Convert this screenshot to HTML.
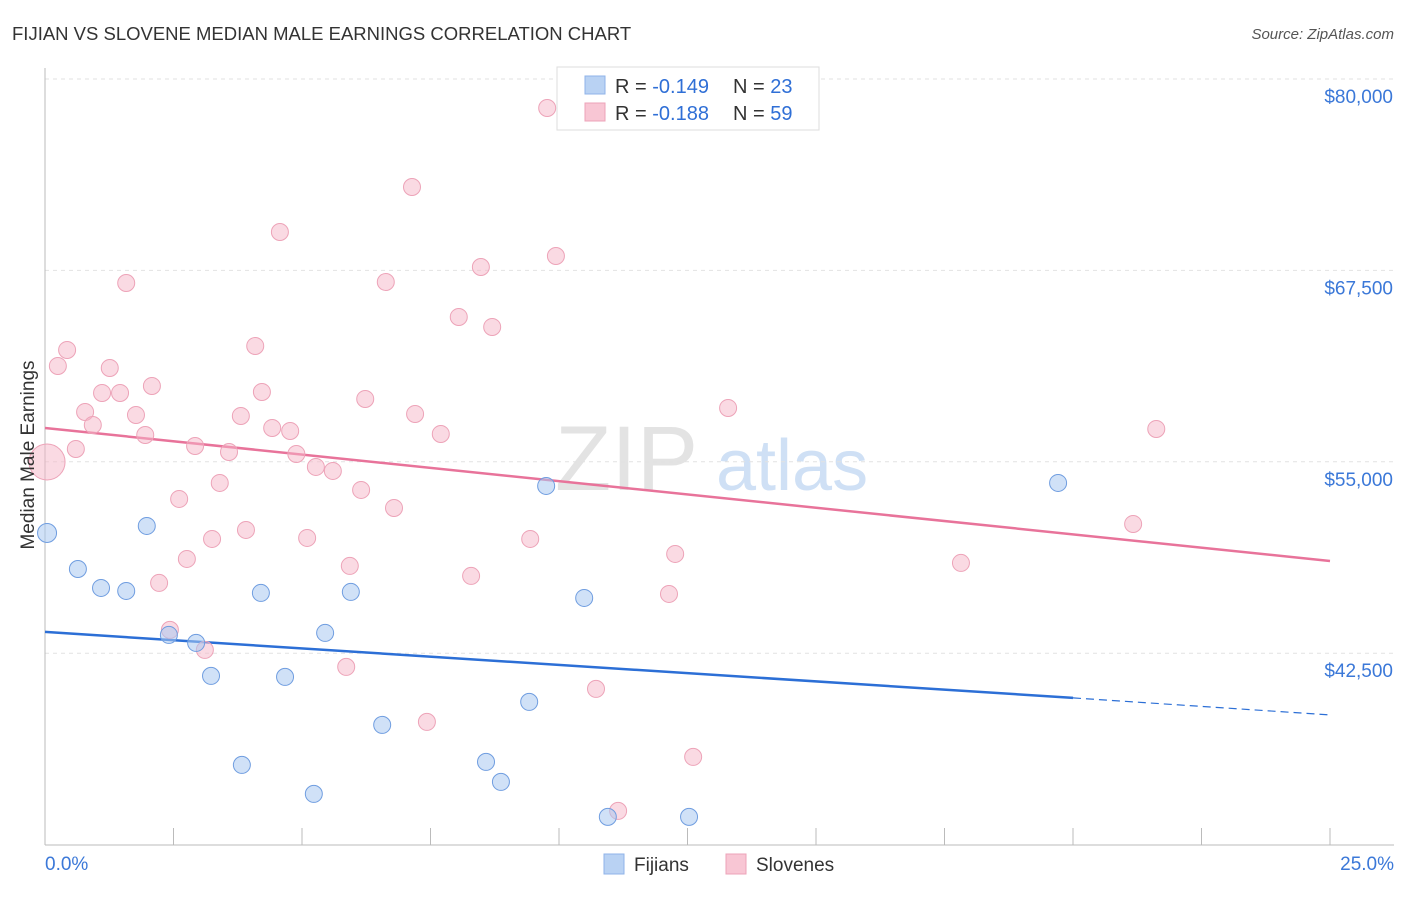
<!DOCTYPE html>
<html><head><meta charset="utf-8"><style>
body{margin:0;background:#fff;font-family:"Liberation Sans",sans-serif}
svg text{font-family:"Liberation Sans",sans-serif}
</style></head><body>
<svg id="c" width="1406" height="892">
<text x="12" y="40" font-size="18.5" fill="#333">FIJIAN VS SLOVENE MEDIAN MALE EARNINGS CORRELATION CHART</text>
<text x="1394" y="39" font-size="15" fill="#555" text-anchor="end" font-style="italic">Source: ZipAtlas.com</text>
<g><text x="555" y="490" font-size="92" fill="#e3e3e3" font-family="Liberation Serif">ZIP</text><text x="716" y="490" font-size="72" fill="#cfe0f5">atlas</text></g>
<g id="grid"></g><g id="axes"></g><g id="lines"></g><g id="pts"></g>
<text transform="translate(34,455) rotate(-90)" font-size="19" fill="#333" text-anchor="middle">Median Male Earnings</text>
<g>
<rect x="557" y="67" width="262" height="63" fill="#fff" stroke="#ddd"/>
<rect x="585" y="76" width="20" height="18" fill="#b9d2f3" stroke="#8fb3e8"/>
<rect x="585" y="103" width="20" height="18" fill="#f8c6d4" stroke="#eda3b8"/>
<text x="615" y="93" font-size="20" fill="#333">R = <tspan fill="#2f6fd6">-0.149</tspan></text>
<text x="733" y="93" font-size="20" fill="#333">N = <tspan fill="#2f6fd6">23</tspan></text>
<text x="615" y="120" font-size="20" fill="#333">R = <tspan fill="#2f6fd6">-0.188</tspan></text>
<text x="733" y="120" font-size="20" fill="#333">N = <tspan fill="#2f6fd6">59</tspan></text>
</g>
<g>
<rect x="604" y="854" width="20" height="20" fill="#b9d2f3" stroke="#8fb3e8"/>
<text x="634" y="871" font-size="19" fill="#333">Fijians</text>
<rect x="726" y="854" width="20" height="20" fill="#f8c6d4" stroke="#eda3b8"/>
<text x="756" y="871" font-size="19" fill="#333">Slovenes</text>
</g>
</svg>
<script>
const yTicks=[80000,67500,55000,42500];
const yTickLabels=["$80,000","$67,500","$55,000","$42,500"];
const xTickLabels=["0.0%","25.0%"];
const fijX=[0.04,0.64,1.09,1.58,1.98,2.41,2.94,3.23,3.83,4.20,4.67,5.23,5.45,5.95,6.56,8.58,8.87,9.42,9.75,10.49,10.95,12.53,19.71];
const fijY=[50354,48000,46762,46566,50811,43693,43171,41016,35204,46436,40951,33310,43824,46501,37816,35400,34094,39318,53423,46109,31809,31809,53619];
const sloX=[0.04,0.25,0.43,0.60,0.78,0.93,1.11,1.26,1.46,1.58,1.77,1.95,2.08,2.22,2.43,2.61,2.76,2.92,3.11,3.25,3.40,3.58,3.81,3.91,4.09,4.22,4.42,4.57,4.77,4.89,5.10,5.27,5.60,5.86,5.93,6.15,6.23,6.63,6.79,7.14,7.20,7.43,7.70,8.05,8.29,8.48,8.70,9.44,9.77,9.94,10.72,11.15,12.14,12.26,12.61,13.29,17.82,21.17,21.62];
const sloY=[54990,61259,62304,55839,58255,57406,59496,61128,59496,66679,58059,56753,59953,47089,44020,52574,48656,56035,42714,49962,53619,55643,57994,50550,62565,59561,57210,70009,57014,55512,50027,54664,54403,41604,48199,53162,59104,66744,51986,72948,58124,38012,56818,64459,47546,67724,63806,49962,78106,68442,40167,32200,46370,48982,35727,58516,48395,50941,57145];
const fijTrend=[43889,39581,38469];
const sloTrend=[57210,48525];
const NS="http://www.w3.org/2000/svg";
const X=v=>45+v/25*1285;
const Y=v=>79+(80000-v)/12500*191.4;
function mk(p,t,a){const e=document.createElementNS(NS,t);for(const k in a)e.setAttribute(k,a[k]);document.getElementById(p).appendChild(e);return e;}
yTicks.forEach((v,i)=>{
 const g=mk('grid','line',{x1:45,x2:1394,y1:Y(v),y2:Y(v),stroke:'#e2e2e2','stroke-dasharray':'4,4'});
 
 
 const t=mk('axes','text',{x:1393,y:Y(v)+24,'font-size':19,fill:'#3b78d8','text-anchor':'end'});
 t.textContent=yTickLabels[i];
 
 
});
const ax=mk('axes','line',{x1:45,x2:1394,y1:845,y2:845,stroke:'#bbb'});


const ay=mk('axes','line',{x1:45,x2:45,y1:68,y2:845,stroke:'#bbb'});


for(let i=0;i<=10;i++){const tk=mk('axes','line',{x1:X(i*2.5),x2:X(i*2.5),y1:828,y2:845,stroke:'#bbb'});
 
 }
[[0,'start',45],[25,'end',1394]].forEach((d,i)=>{const t=mk('axes','text',{x:d[2],y:870,'font-size':19,fill:'#3b78d8','text-anchor':d[1]});t.textContent=xTickLabels[i];
 
 });
const sl=mk('lines','line',{x1:X(0),y1:Y(sloTrend[0]),x2:X(25),y2:Y(sloTrend[1]),stroke:'#e8739a','stroke-width':2.5});


const fl=mk('lines','line',{x1:X(0),y1:Y(fijTrend[0]),x2:X(20),y2:Y(fijTrend[1]),stroke:'#2c6fd6','stroke-width':2.5});


const fd=mk('lines','line',{x1:X(20),y1:Y(fijTrend[1]),x2:X(25),y2:Y(fijTrend[2]),stroke:'#2c6fd6','stroke-width':1.2,'stroke-dasharray':'8,5'});


sloX.forEach((x,i)=>{const c=mk('pts','circle',{cx:X(x),cy:Y(sloY[i]),r:i==0?18:8.5,fill:'rgba(246,182,200,0.5)',stroke:'#eda3b8','stroke-width':1});
 
 });
fijX.forEach((x,i)=>{const c=mk('pts','circle',{cx:X(x),cy:Y(fijY[i]),r:i==0?9.5:8.5,fill:'rgba(170,200,240,0.55)',stroke:'#6f9de0','stroke-width':1});
 
 });
</script>
</body></html>
